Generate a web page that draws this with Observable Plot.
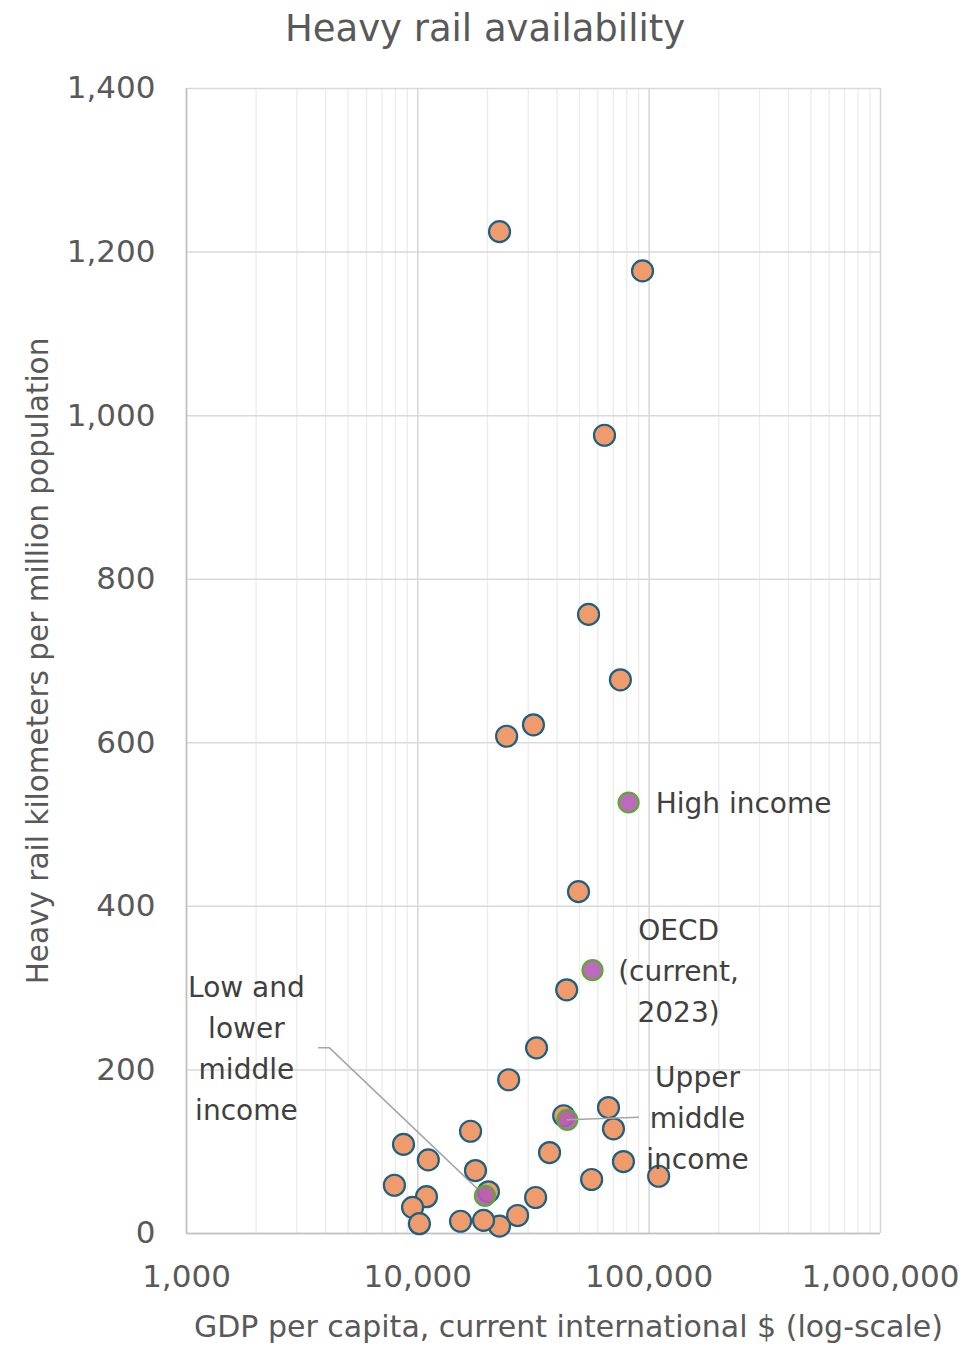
<!DOCTYPE html>
<html>
<head>
<meta charset="utf-8">
<script src="https://cdn.jsdelivr.net/npm/d3@7"></script>
<script src="https://cdn.jsdelivr.net/npm/@observablehq/plot@0.6"></script>
<style>
  body { margin: 0; background: #fff; font-family: "DejaVu Sans", sans-serif; }
  #title { width: 970px; height: 60px; line-height: 58px; text-align: center; font-size: 37px; color: #595959; }
</style>
</head>
<body>
<div id="title">Heavy rail availability</div>
<div id="chart"></div>
<script>
// Countries: GDP per capita (current international $) and heavy rail km per million population
const gdp = [22550, 93600, 64100, 54700, 75100, 31600, 24200, 49500, 44000, 32600,
             24700, 42700, 66700, 70100, 37100, 77400, 56400, 109900, 32300, 27000,
             22550, 19230, 15300, 16900, 17750, 20200, 8670, 11100, 7920, 10900,
             9490, 10160];
const rail = [1225, 1177, 976, 757, 677, 622, 608, 418, 298, 227,
              188, 144, 154, 128, 99, 88, 66, 70, 44, 22,
              9, 16, 15, 125, 77, 51, 109, 90, 59, 45,
              32, 12];

// Income-group aggregates
const groupNames = ["High income", "OECD (current, 2023)", "Upper middle income", "Low and lower middle income"];
const groupGdp = [81500, 56900, 44250, 19500];
const groupRail = [527, 322, 139, 46];

// Annotation labels (data-space anchor positions)
const labelText = ["High income", "OECD\n(current,\n2023)", "Upper\nmiddle\nincome", "Low and\nlower\nmiddle\nincome"];
const labelGdp = [106700, 134000, 161800, 1815];
const labelRail = [525, 325, 145, 230];

// Leader lines (data space)
const leaderLow = {x: [3725, 4150, 19500], y: [227, 227, 46]};
const leaderUpper = {x: [44250, 89900], y: [139, 142]};

const xTicks = [1000, 10000, 100000, 1000000];
const yTicks = [0, 200, 400, 600, 800, 1000, 1200, 1400];

const countries = gdp.map((g, i) => ({gdp: g, rail: rail[i]}));
const groups = groupNames.map((n, i) => ({name: n, gdp: groupGdp[i], rail: groupRail[i]}));
const labels = labelText.map((t, i) => ({text: t, gdp: labelGdp[i], rail: labelRail[i]}));
const lowLine = leaderLow.x.map((x, i) => ({gdp: x, rail: leaderLow.y[i]}));
const upLine = leaderUpper.x.map((x, i) => ({gdp: x, rail: leaderUpper.y[i]}));

const minorTicks = d3.scaleLog().domain([1000, 1000000]).ticks().filter(v => !xTicks.includes(v));

const chart = Plot.plot({
  width: 970,
  height: 1288,
  marginLeft: 186,
  marginRight: 90,
  marginTop: 28,
  marginBottom: 115,
  style: {fontFamily: "DejaVu Sans, sans-serif", color: "#595959", background: "#fff"},
  x: {type: "log", domain: [1000, 1000000]},
  y: {domain: [0, 1400]},
  marks: [
    Plot.gridX(minorTicks, {stroke: "#ececec", strokeOpacity: 1, strokeWidth: 1.3}),
    Plot.gridX(xTicks, {stroke: "#d6d6d6", strokeOpacity: 1, strokeWidth: 1.5}),
    Plot.gridY(yTicks, {stroke: "#d9d9d9", strokeOpacity: 1, strokeWidth: 1.5}),
    Plot.ruleX([1000], {stroke: "#bfbfbf", strokeWidth: 1.5}),
    Plot.ruleY([0], {stroke: "#bfbfbf", strokeWidth: 1.5}),
    Plot.axisX(xTicks, {tickFormat: d3.format(","), tickSize: 0, tickPadding: 31, fontSize: 31, label: null, fill: "#595959"}),
    Plot.axisY(yTicks, {tickFormat: d3.format(","), tickSize: 0, tickPadding: 31, fontSize: 31, label: null, fill: "#595959"}),
    Plot.text(["Heavy rail kilometers per million population"], {frameAnchor: "left", textAnchor: "middle", rotate: -90, dx: -148, fontSize: 29.5, fill: "#595959"}),
    Plot.text(["GDP per capita, current international $ (log-scale)"], {frameAnchor: "bottom", dy: 103, dx: 35, fontSize: 30, fill: "#595959"}),
    Plot.line(lowLine, {x: "gdp", y: "rail", stroke: "#a6a6a6", strokeWidth: 1.5}),
    Plot.dot(countries, {x: "gdp", y: "rail", r: 10.5, fill: "#f09b6c", stroke: "#1e5f82", strokeWidth: 2.2}),
    Plot.dot(groups, {x: "gdp", y: "rail", r: 10, fill: "#b55bb5", fillOpacity: 0.9, stroke: "#5caa34", strokeWidth: 2.2}),
    Plot.line(upLine, {x: "gdp", y: "rail", stroke: "#a6a6a6", strokeWidth: 1.5}),
    Plot.text(labels.slice(0, 1), {x: "gdp", y: "rail", text: "text", textAnchor: "start", fontSize: 28, fill: "#404040"}),
    Plot.text(labels.slice(1), {x: "gdp", y: "rail", text: "text", textAnchor: "middle", fontSize: 28, lineHeight: 1.46, fill: "#404040"})
  ]
});
document.getElementById("chart").appendChild(chart);
</script>
</body>
</html>
